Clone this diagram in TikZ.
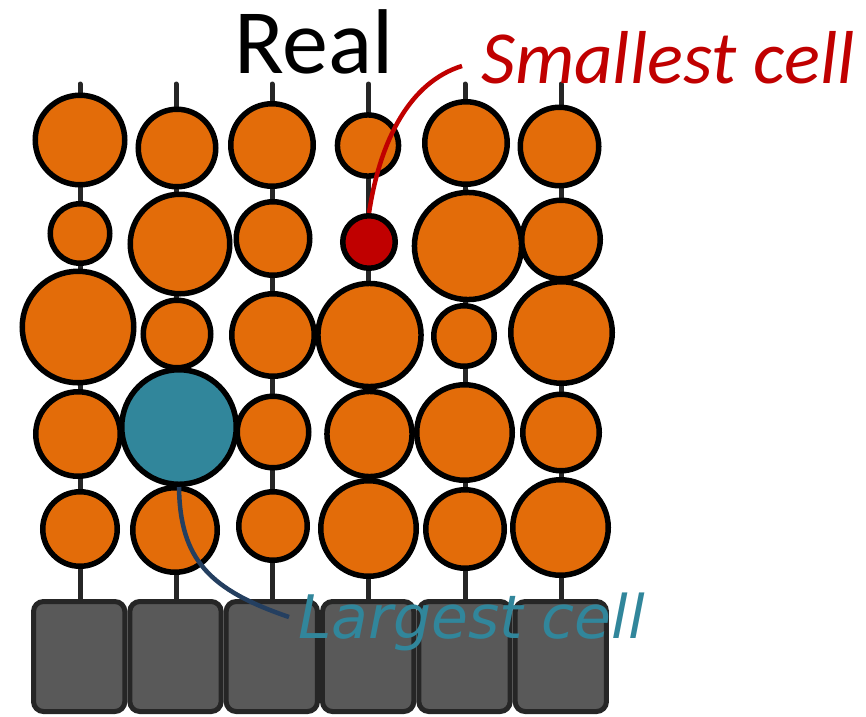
\documentclass[tikz,border=0pt]{standalone}
\usepackage{fontspec}
\setmainfont{Carlito}
\newfontfamily\dejavu{DejaVu Sans}
\definecolor{cellorange}{HTML}{E36C09}
\definecolor{cellred}{HTML}{C00000}
\definecolor{cellteal}{HTML}{31869B}
\definecolor{stemgray}{HTML}{262626}
\definecolor{boxgray}{HTML}{595959}
\definecolor{leadblue}{HTML}{243F60}
\tikzset{
  cellbase/.style={circle, draw=black, line width=5.5pt, inner sep=0pt},
  stemline/.style={draw=stemgray, line width=5pt, line cap=round},
  basebox/.style={draw=stemgray, fill=boxgray, line width=5pt, rounded corners=10pt},
  leader/.style={line width=4.5pt}
}
\newcommand{\mycell}[5]{%
  \node[cellbase, fill=#5, minimum size={2*(#4-2.75)*1pt}] (#1) at (#2,#3) {};}
\begin{document}
\begin{tikzpicture}[x=1pt,y=-1pt]
\useasboundingbox (0,0) rectangle (866,716);
% stems
\foreach \i/\x in {1/80,2/176,3/272,4/368.5,5/465,6/561}{
  \coordinate (st\i) at (\x,84);
  \coordinate (sb\i) at (\x,600);
  \draw[stemline] (st\i) -- (sb\i);
}
% column 1
\mycell{c11}{80}{140}{47.5}{cellorange}
\mycell{c12}{80}{233.5}{32.5}{cellorange}
\mycell{c13}{78}{327}{58.5}{cellorange}
\mycell{c14}{78}{434}{45}{cellorange}
\mycell{c15}{80}{529}{40}{cellorange}
% column 2
\mycell{c21}{177}{148}{41.5}{cellorange}
\mycell{c22}{180}{244}{52.5}{cellorange}
\mycell{c23}{177}{334}{36.5}{cellorange}
\mycell{c24}{179}{427}{60}{cellteal}
\mycell{c25}{175}{530}{45}{cellorange}
% column 3
\mycell{c31}{272}{145}{44}{cellorange}
\mycell{c32}{273}{238.5}{39.5}{cellorange}
\mycell{c33}{273}{335}{44}{cellorange}
\mycell{c34}{273}{432}{38.5}{cellorange}
\mycell{c35}{273}{526}{37}{cellorange}
% column 4
\mycell{c41}{368}{145.5}{33.3}{cellorange}
\mycell{c42}{369}{242}{29}{cellred}
\mycell{c43}{369.5}{335}{54.3}{cellorange}
\mycell{c44}{369.5}{434}{45.3}{cellorange}
\mycell{c45}{368.5}{528.5}{50.5}{cellorange}
% column 5
\mycell{c51}{466}{143}{44}{cellorange}
\mycell{c52}{468}{246}{56.3}{cellorange}
\mycell{c53}{464}{336}{33}{cellorange}
\mycell{c54}{464.5}{432.5}{50.5}{cellorange}
\mycell{c55}{465}{529}{42}{cellorange}
% column 6
\mycell{c61}{559.5}{146.5}{42}{cellorange}
\mycell{c62}{561}{239.5}{42}{cellorange}
\mycell{c63}{561.5}{332.5}{53.5}{cellorange}
\mycell{c64}{561}{432.5}{41}{cellorange}
\mycell{c65}{560.5}{527.5}{50.5}{cellorange}
% base boxes
\foreach \i in {0,...,5}{
  \path[basebox] ({31+\i*96.33+2.5},601.5) rectangle ({31+(\i+1)*96.33-2.5},711.5);
}
% leaders
\coordinate (smallend) at (462,66);
\coordinate (largeend) at (289,617);
\draw[leader, draw=cellred] (c42.north) .. controls (380,140) and (410,82) .. (smallend);
\draw[leader, draw=leadblue] (c24.south) .. controls (180,560) and (210,590) .. (largeend);
% texts
\node[anchor=base west, inner sep=0pt, font=\fontsize{92}{100}\selectfont] (real) at (234,73) {Real};
\node[anchor=base west, inner sep=0pt, text=cellred, font=\fontsize{75}{80}\selectfont\itshape] (smalltxt) at (481,83) {Smallest cell};
\node[anchor=base west, inner sep=0pt, text=cellteal, font=\dejavu\fontsize{60}{70}\selectfont\itshape] (largetxt) at (298,638) {Largest cell};
\end{tikzpicture}
\end{document}
